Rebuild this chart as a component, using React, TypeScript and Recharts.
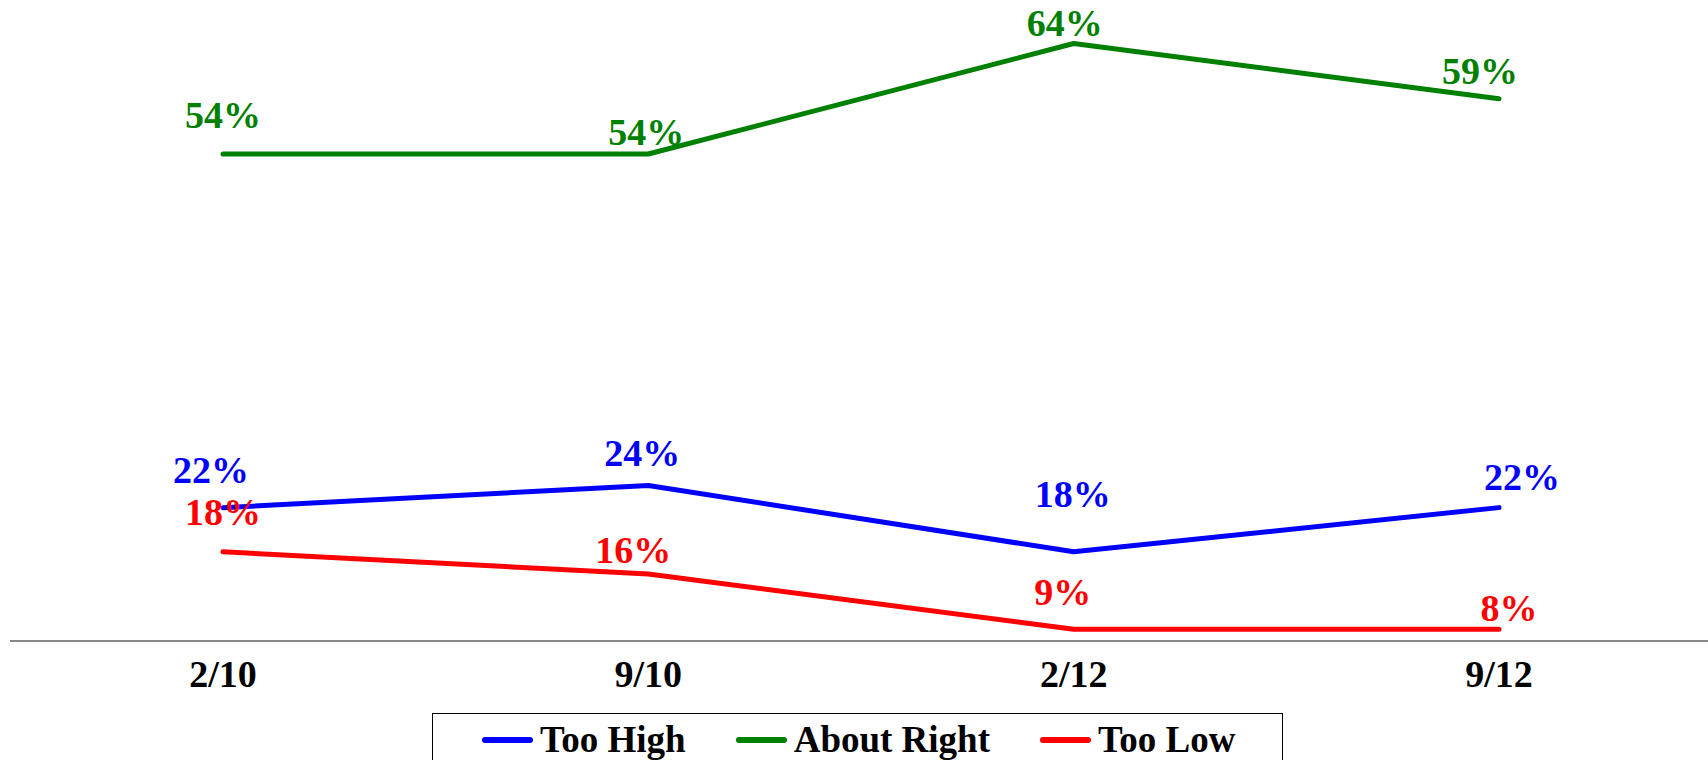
import React from 'react';
import { LineChart, Line, XAxis, YAxis, Legend, LabelList } from 'recharts';

const periods = ['2/10', '9/10', '2/12', '9/12'];
const tooHigh = [22, 24, 18, 22];
const aboutRight = [54, 54, 64, 59];
const tooLow = [18, 16, 9, 8];

// the source chart pins values under its floor to this level instead of dropping them
const FLOOR = 11;
const Y_DOMAIN = [9.93, 67.94];

const FONT = '"Liberation Serif", "Times New Roman", Times, serif';

const series = [
  { key: 'tooHigh', name: 'Too High', color: '#0000FF', values: tooHigh },
  { key: 'aboutRight', name: 'About Right', color: '#008000', values: aboutRight },
  { key: 'tooLow', name: 'Too Low', color: '#FF0000', values: tooLow },
];

// hand placed labels in the original: [dx, dy of baseline] from each point
const labelNudge: Record<string, number[][]> = {
  tooHigh: [[-12, -24.5], [-6, -19.5], [-1, -45], [23, -18]],
  aboutRight: [[0, -26], [-2, -9], [-9, -7.5], [-19, -15]],
  tooLow: [[0, -27], [-15, -11], [-11, -24], [10, -8.5]],
};

const data = periods.map((period, i) => ({
  period,
  tooHigh: tooHigh[i],
  aboutRight: aboutRight[i],
  tooLow: tooLow[i],
}));

function PeriodTick({ x, y, payload }: any) {
  return (
    <text x={x} y={y + 46} textAnchor="middle" fontFamily={FONT} fontWeight="bold" fontSize={38} fill="#000">
      {payload.value}
    </text>
  );
}

function makeLabel(s: typeof series[number]) {
  return (props: any) => {
    const { x, y, index } = props;
    const [dx, dy] = labelNudge[s.key][index];
    return (
      <text x={x + dx} y={y + dy} textAnchor="middle" fontFamily={FONT} fontWeight="bold" fontSize={38} fill={s.color}>
        {s.values[index]}%
      </text>
    );
  };
}

function LegendBox() {
  return (
    <div
      style={{
        boxSizing: 'border-box',
        width: 851,
        height: 47,
        border: '1.5px solid #000',
        borderBottom: 'none',
        background: '#fff',
        display: 'flex',
        alignItems: 'center',
        paddingLeft: 49,
        paddingTop: 5,
        fontFamily: FONT,
        fontWeight: 'bold',
        fontSize: 37,
        lineHeight: '36px',
      }}
    >
      {series.map((s, i) => (
        <div key={s.key} style={{ display: 'flex', alignItems: 'center', marginLeft: i === 0 ? 0 : 50 }}>
          <span style={{ width: 51, height: 6, borderRadius: 3, background: s.color, marginRight: 7 }} />
          <span style={{ color: '#000', whiteSpace: 'nowrap' }}>{s.name}</span>
        </div>
      ))}
    </div>
  );
}

export default function App() {
  return (
    <div style={{ position: 'fixed', left: 0, top: 0, width: 1708, height: 760, overflow: 'hidden', background: '#fff' }}>
      <LineChart width={1708} height={760} data={data} margin={{ top: 0, right: 0, left: 10, bottom: 0 }}>
        <XAxis
          dataKey="period"
          interval={0}
          height={119}
          padding={{ left: 213, right: 209 }}
          axisLine={{ stroke: '#888888', strokeWidth: 2 }}
          tickLine={false}
          tickSize={0}
          tickMargin={0}
          tick={<PeriodTick />}
        />
        <YAxis hide type="number" domain={Y_DOMAIN} allowDataOverflow />
        <Legend
          verticalAlign="middle"
          align="center"
          content={() => <LegendBox />}
          wrapperStyle={{ left: 432, top: 713, width: 851, height: 47 }}
        />
        {series.map((s) => (
          <Line
            key={s.key}
            name={s.name}
            dataKey={(row: any) => Math.max(row[s.key], FLOOR)}
            stroke={s.color}
            strokeWidth={5}
            strokeLinecap="round"
            strokeLinejoin="round"
            dot={false}
            activeDot={false}
            isAnimationActive={false}
          >
            <LabelList content={makeLabel(s)} />
          </Line>
        ))}
      </LineChart>
    </div>
  );
}
